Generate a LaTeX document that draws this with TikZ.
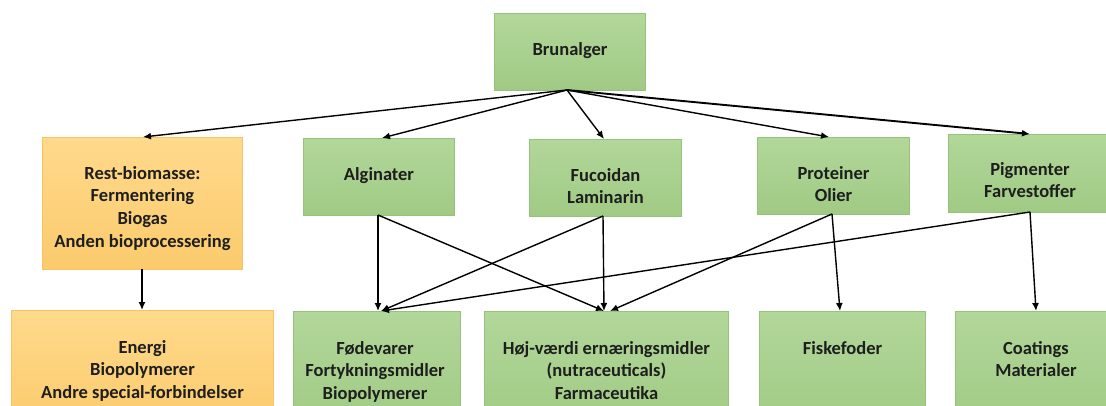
\documentclass[tikz,border=0pt]{standalone}
\usepackage{fontspec}
\setmainfont{Carlito}
\usetikzlibrary{arrows.meta,calc}
\definecolor{gtop}{HTML}{B2D79A}
\definecolor{gbot}{HTML}{A0CA84}
\definecolor{gline}{HTML}{98C27C}
\definecolor{otop}{HTML}{FFD98C}
\definecolor{obot}{HTML}{FBCB6C}
\definecolor{oline}{HTML}{F6C463}
\definecolor{txt}{HTML}{1E1E1E}
\begin{document}
\begin{tikzpicture}[x=1pt,y=-1pt,
  gbox/.style={draw=gline, line width=1pt, top color=gtop, bottom color=gbot, inner sep=0pt, anchor=north west},
  obox/.style={draw=oline, line width=1pt, top color=otop, bottom color=obot, inner sep=0pt, anchor=north west},
  lbl/.style={anchor=north, inner sep=0pt, align=center, text=txt, font=\bfseries\fontsize{18.5}{22.7}\selectfont},
  arr/.style={-{Latex[length=8pt,width=7pt]}, line width=1.4pt, black}]
\useasboundingbox (0,0) rectangle (1106,405);
\clip (0,0) rectangle (1106,405);
\fill[white] (0,0) rectangle (1106,405);
% boxes
\node[gbox, minimum width=151pt, minimum height=77pt] (brun) at (494,13) {};
\node[obox, minimum width=200pt, minimum height=132pt] (rest) at (42,137) {};
\node[gbox, minimum width=151pt, minimum height=77pt] (alg) at (303,138) {};
\node[gbox, minimum width=152pt, minimum height=77pt] (fuc) at (529,139) {};
\node[gbox, minimum width=152pt, minimum height=77pt] (prot) at (757,137) {};
\node[gbox, minimum width=170pt, minimum height=78pt] (pig) at (948,134) {};
\node[obox, minimum width=262pt, minimum height=115pt] (energi) at (11,310) {};
\node[gbox, minimum width=167pt, minimum height=115pt] (foed) at (293,311) {};
\node[gbox, minimum width=244pt, minimum height=115pt] (hoej) at (484,311) {};
\node[gbox, minimum width=166pt, minimum height=115pt] (fisk) at (759,311) {};
\node[gbox, minimum width=170pt, minimum height=115pt] (coat) at (955,311) {};
% labels
\node[lbl] (brun-t) at ($(brun.north)+(0,29)$) {Brunalger};
\node[lbl] (rest-t) at ($(rest.north)+(0,29)$) {Rest-biomasse:\\Fermentering\\Biogas\\Anden bioprocessering};
\node[lbl] (alg-t) at ($(alg.north)+(0,29)$) {Alginater};
\node[lbl] (fuc-t) at ($(fuc.north)+(0,29)$) {Fucoidan\\Laminarin};
\node[lbl] (prot-t) at ($(prot.north)+(0,29)$) {Proteiner\\Olier};
\node[lbl] (pig-t) at ($(pig.north west)+(82,28)$) {Pigmenter\\Farvestoffer};
\node[lbl] (energi-t) at ($(energi.north)+(0,30)$) {Energi\\Biopolymerer\\Andre special-forbindelser};
\node[lbl] (foed-t) at ($(foed.north)+(-2,30)$) {Fødevarer\\Fortykningsmidler\\Biopolymerer};
\node[lbl] (hoej-t) at ($(hoej.north)+(0,30)$) {Høj-værdi ernæringsmidler\\(nutraceuticals)\\Farmaceutika};
\node[lbl] (fisk-t) at ($(fisk.north)+(0,30)$) {Fiskefoder};
\node[lbl] (coat-t) at ($(coat.north west)+(81,30)$) {Coatings\\Materialer};
% ports
\coordinate (brun-out) at (567,90);
\coordinate (rest-in) at (143,137);
\coordinate (rest-out) at (142,269);
\coordinate (alg-in) at (382,138);
\coordinate (alg-out) at (378,215);
\coordinate (fuc-in) at (604,139);
\coordinate (fuc-out) at (603,216);
\coordinate (prot-in) at (829,137);
\coordinate (prot-out) at (832,214);
\coordinate (pig-in) at (1030,134);
\coordinate (pig-out) at (1030,212);
\coordinate (energi-in) at (142,310);
\coordinate (foed-in1) at (378,311);
\coordinate (foed-in2) at (381,311);
\coordinate (hoej-in1) at (604,311);
\coordinate (hoej-in2) at (610,311);
\coordinate (fisk-in) at (840,311);
\coordinate (coat-in) at (1036,311);
% connectors
\draw[arr] (brun-out) -- (rest-in);
\draw[arr] (brun-out) -- (alg-in);
\draw[arr] (brun-out) -- (fuc-in);
\draw[arr] (brun-out) -- (prot-in);
\draw[arr, line width=1.9pt] (brun-out) -- (pig-in);
\draw[arr] (rest-out) -- (energi-in);
\draw[arr] (alg-out) -- (foed-in1);
\draw[arr] (alg-out) -- (hoej-in1);
\draw[arr] (fuc-out) -- (foed-in2);
\draw[arr] (fuc-out) -- (hoej-in1);
\draw[arr] (prot-out) -- (hoej-in2);
\draw[arr] (prot-out) -- (fisk-in);
\draw[arr] (pig-out) -- (foed-in2);
\draw[arr] (pig-out) -- (coat-in);
\end{tikzpicture}
\end{document}
